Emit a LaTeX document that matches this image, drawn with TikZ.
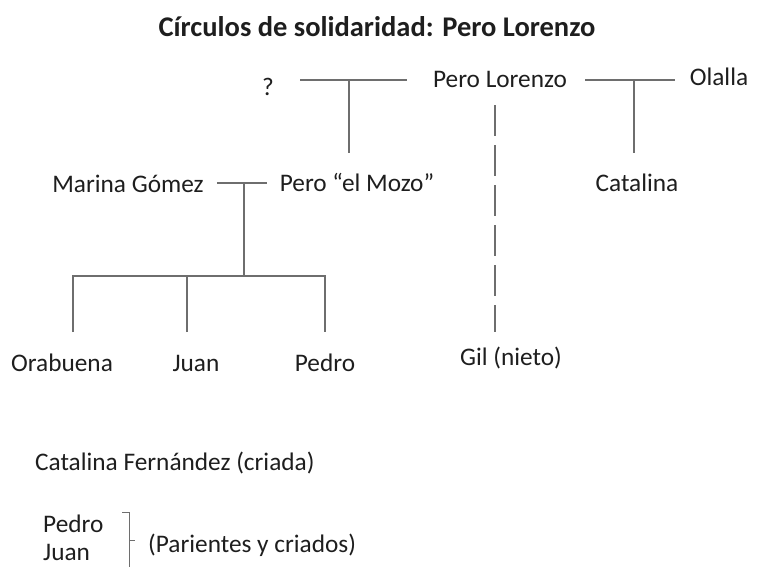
\documentclass[tikz,border=0pt]{standalone}
\usepackage{fontspec}
\setmainfont{Carlito}

\definecolor{linegray}{RGB}{110,110,110}
\definecolor{textgray}{RGB}{30,30,30}

\tikzset{
  person/.style={anchor=base, inner sep=0pt, text=textgray, font=\fontsize{25.3}{30}\selectfont},
  note/.style={person, anchor=base west},
  link/.style={draw=linegray, line width=1.2pt},
}

\begin{document}
\begin{tikzpicture}[x=1pt, y=-1pt]
  \useasboundingbox (0,0) rectangle (763,566);

  % Title
  \node [person, font=\fontsize{28.5}{34}\selectfont\bfseries] (title) at (377,36)
    {Círculos de solidaridad: Pero Lorenzo};

  % People, first row
  \node [person] (q) at (268,95) {?};
  \node [person] (pl) at (500,87) {Pero Lorenzo};
  \node [person] (olalla) at (719,85) {Olalla};

  % Second row
  \node [person] (marina) at (128,192) {Marina Gómez};
  \node [person] (mozo) at (357,191) {Pero “el Mozo”};
  \node [person] (catalina) at (637,191) {Catalina};

  % Third row
  \node [person] (orabuena) at (62,371) {Orabuena};
  \node [person] (juan) at (196,371) {Juan};
  \node [person] (pedro) at (325,371) {Pedro};
  \node [person] (gil) at (511,365) {Gil (nieto)};

  % Others
  \node [note] (criada) at (35,470) {Catalina Fernández (criada)};
  \node [note] (pedro2) at (43,532) {Pedro};
  \node [note] (juan2) at (43,560) {Juan};
  \node [note] (parientes) at (148,552) {(Parientes y criados)};

  % Marriages
  \coordinate (qpl) at (349,80);
  \coordinate (plo) at (634,80);
  \coordinate (mm) at (244,183);
  \draw [link, shorten <=26pt, shorten >=26pt] (q.east |- qpl) -- (pl.west |- qpl);
  \draw [link, shorten <=18pt, shorten >=15pt] (pl.east |- plo) -- (olalla.west |- plo);
  \draw [link, shorten <=13pt, shorten >=13pt] (marina.east |- mm) -- (mozo.west |- mm);

  % Descent
  \draw [link, shorten >=20pt] (qpl) -- (qpl |- mozo.north);
  \draw [link, shorten >=20pt] (plo) -- (plo |- catalina.north);
  \coordinate (bar) at (244,276);
  \coordinate (c1) at (73,332);
  \coordinate (c2) at (187,332);
  \coordinate (c3) at (325,332);
  \draw [link] (mm) -- (bar);
  \draw [link] (c1) |- (bar) -| (c3);
  \draw [link] (c2) -- (c2 |- bar);
  \draw [link, dash pattern=on 31pt off 9pt] (pl.south -| 495,0) ++(0,18) -- ++(0,227);

  % Bracket
  \coordinate (brtop) at (129,512);
  \coordinate (brtick) at (129,540);
  \draw [link, line width=1pt] ([xshift=-7pt]brtop) -- (brtop) -- (brtop |- 0,570);
  \draw [link, line width=1pt] (brtick) -- ([xshift=-13pt]parientes.west |- brtick);
\end{tikzpicture}
\end{document}
